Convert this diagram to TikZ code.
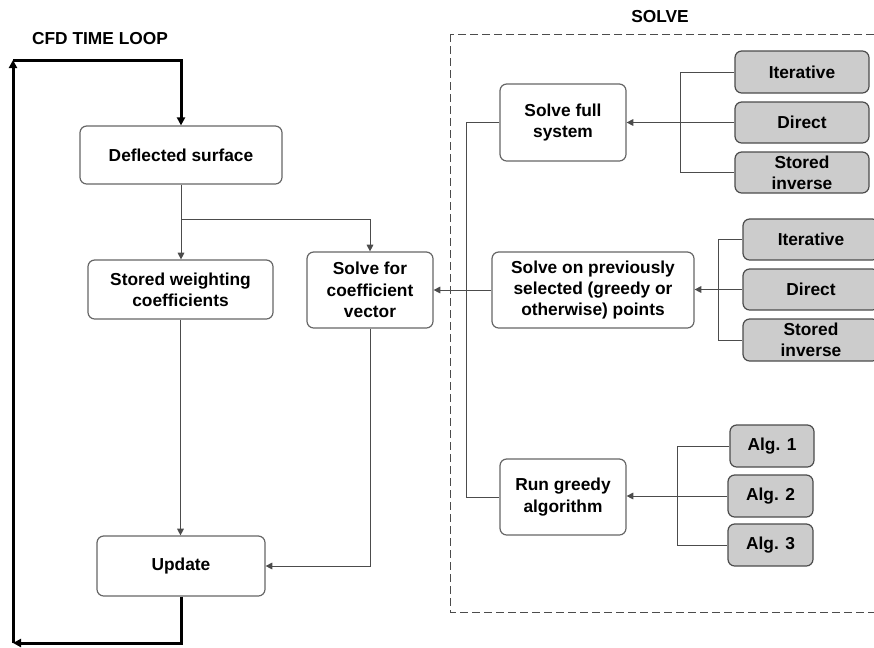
\documentclass[tikz,border=0pt]{standalone}
\usepackage{fontspec}
\setmainfont{Liberation Sans}
\usetikzlibrary{arrows.meta}
\begin{document}
\begin{tikzpicture}[x=0.75pt,y=-0.75pt,
 font=\fontsize{13}{16}\selectfont\bfseries,
 box/.style={draw=black!60, line width=0.9pt, rounded corners=5pt, inner sep=0pt, align=center, fill=white},
 gbox/.style={box, fill=black!20, draw=black!70},
 sz/.style 2 args={minimum width={(#1)*0.75pt}, minimum height={(#2)*0.75pt}},
 conn/.style={draw=black!70, line width=0.75pt},
 tip/.style={-{Triangle[length=5pt,width=5pt]}},
 loopline/.style={draw=black, line width=2.25pt, -{Triangle[length=6pt,width=6pt]}}
]
\useasboundingbox (0,0) rectangle (874,647);
\clip (0,0) rectangle (874,647);

% titles
\node (tloop) at (100,39) {CFD TIME LOOP};
\node (tsolve) at (660,17) {SOLVE};

% dashed solve region
\draw[draw=black!70, line width=0.75pt, dash pattern=on 6pt off 3pt] (450,34) rectangle (882,612);

% left column
\node[box, sz={202}{58}] (def) at (181,155) {Deflected surface};
\node[box, sz={185}{59}] (sw) at (180.5,289.5) {Stored weighting\\coefficients};
\node[box, sz={126}{76}] (sc) at (370,290) {Solve for\\coefficient\\vector};
\node[box, sz={168}{60}] (up) at (181,566) {Update};

% solve region
\node[box, sz={126}{77}] (sf) at (563,122.5) {Solve full\\system};
\node[gbox, sz={134}{42}] (it1) at (802,72) {Iterative};
\node[gbox, sz={134}{41}] (d1) at (802,122.5) {Direct};
\node[gbox, sz={134}{41}] (s1) at (802,172.5) {Stored\\inverse};

\node[box, sz={202}{76}] (sp) at (593,290) {Solve on previously\\selected (greedy or\\otherwise) points};
\node[gbox, sz={136}{41}] (it2) at (811,239.5) {Iterative};
\node[gbox, sz={136}{41}] (d2) at (811,289.5) {Direct};
\node[gbox, sz={136}{42}] (s2) at (811,340) {Stored\\inverse};

\node[box, sz={126}{76}] (rg) at (563,497) {Run greedy\\algorithm};
\node[gbox, sz={84}{42}] (a1) at (772,446) {Alg. 1};
\node[gbox, sz={85}{42}] (a2) at (770.5,496) {Alg. 2};
\node[gbox, sz={85}{42}] (a3) at (770.5,545) {Alg. 3};

% coordinates
\coordinate (ll) at (13,643);
\coordinate (lt) at (13,60);
\coordinate (br) at (181,219);
\coordinate (bl) at (466,497);
\coordinate (b1) at (680,0);
\coordinate (b2) at (718,0);
\coordinate (b3) at (677,0);

% time loop
\draw[loopline] (up.south) |- (ll);
\draw[loopline] (ll) -- (lt);
\draw[loopline] (lt) -| (def.north);

% left column connectors
\draw[conn, tip] (def.south) -- (def.south |- sw.north);
\draw[conn, tip] (br) -| (sc.north);
\draw[conn, tip] (sw.south) -- (sw.south |- up.north);
\draw[conn, tip] (sc.south) |- (up.east);
\draw[conn, tip] (sp.west) -- (sp.west -| sc.east);

% solve bus
\draw[conn] (sf.west) -| (bl) -- (rg.west);

% right buses
\draw[conn] (it1.west) -- (it1.west -| b1) |- (s1.west);
\draw[conn, tip] (d1.west) -- (d1.west -| sf.east);
\draw[conn] (it2.west) -- (it2.west -| b2) |- (s2.west);
\draw[conn, tip] (d2.west) -- (d2.west -| sp.east);
\draw[conn] (a1.west) -- (a1.west -| b3) |- (a3.west);
\draw[conn, tip] (a2.west) -- (a2.west -| rg.east);
\end{tikzpicture}
\end{document}
